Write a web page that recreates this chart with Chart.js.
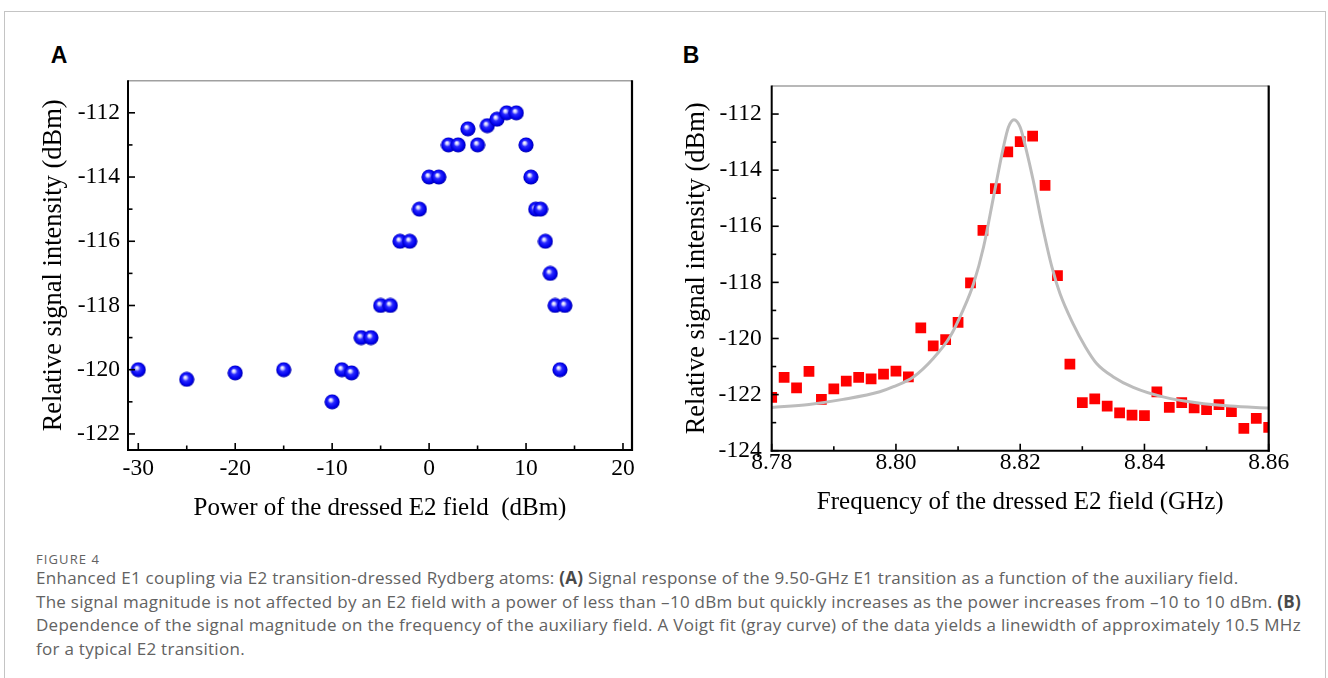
<!DOCTYPE html>
<html><head><meta charset="utf-8">
<script src="https://cdn.jsdelivr.net/npm/chart.js@4.4.1/dist/chart.umd.min.js"></script>
<style>
html,body{margin:0;padding:0;background:#fff;width:1328px;height:678px;overflow:hidden;position:relative;}
#frame{position:absolute;left:4px;top:11px;width:1322px;height:700px;border:1px solid #c4c4c4;box-sizing:border-box;}
.wrap{position:absolute;top:0;width:664px;height:540px;}
#wa{left:0}#wb{left:664px}
.plabel{position:absolute;top:43.8px;font-family:"Liberation Sans",Arial,sans-serif;font-weight:bold;font-size:23px;line-height:23px;color:#000;}
#fig{position:absolute;left:36px;top:550.5px;font-family:"Open Sans",sans-serif;font-size:13px;line-height:16px;color:#626262;letter-spacing:1.1px;}
#cap{position:absolute;left:36px;top:566.3px;font-family:"Open Sans",sans-serif;font-size:17px;line-height:23.4px;color:#626262;white-space:nowrap;letter-spacing:0.28px;}
#cap b{color:#4a4a4a;}
</style></head>
<body>
<div id="frame"></div>
<div class="plabel" style="left:50.7px">A</div>
<div class="plabel" style="left:682.7px">B</div>
<div class="wrap" id="wa"><canvas id="ca" width="664" height="540"></canvas></div>
<div class="wrap" id="wb"><canvas id="cb" width="664" height="540"></canvas></div>
<div id="fig">FIGURE 4</div>
<div id="cap">Enhanced E1 coupling via E2 transition-dressed Rydberg atoms: <b>(A)</b> Signal response of the 9.50-GHz E1 transition as a function of the auxiliary field.<br>The signal magnitude is not affected by an E2 field with a power of less than –10 dBm but quickly increases as the power increases from –10 to 10 dBm. <b>(B)</b><br>Dependence of the signal magnitude on the frequency of the auxiliary field. A Voigt fit (gray curve) of the data yields a linewidth of approximately 10.5 MHz<br>for a typical E2 transition.</div>
<script>
// ---- Panel A data ----
const aPower  = [-30, -25, -20, -15, -10, -9, -8, -7, -6, -5, -4, -3, -2, -1, 0, 1, 2, 3, 4, 5, 6, 7, 8, 9, 10, 10.5, 11, 11.5, 12, 12.5, 13, 13.5, 14];
const aSignal = [-120, -120.3, -120.1, -120, -121, -120, -120.1, -119, -119, -118, -118, -116, -116, -115, -114, -114, -113, -113, -112.5, -113, -112.4, -112.2, -112, -112, -113, -114, -115, -115, -116, -117, -118, -120, -118];
const aXTicks = [-30, -20, -10, 0, 10, 20];
const aXMinor = [-25, -15, -5, 5, 15];
const aYTicks = [-122, -120, -118, -116, -114, -112];
const aYMinor = [-121, -119, -117, -115, -113];

// ---- Panel B data ----
const bFreq = [8.780, 8.782, 8.784, 8.786, 8.788, 8.790, 8.792, 8.794, 8.796, 8.798, 8.800, 8.802, 8.804, 8.806, 8.808, 8.810, 8.812, 8.814, 8.816, 8.818, 8.820, 8.822, 8.824, 8.826, 8.828, 8.830, 8.832, 8.834, 8.836, 8.838, 8.840, 8.842, 8.844, 8.846, 8.848, 8.850, 8.852, 8.854, 8.856, 8.858, 8.860];
const bSignal = [-122.1, -121.39, -121.76, -121.17, -122.17, -121.8, -121.52, -121.39, -121.44, -121.27, -121.16, -121.37, -119.62, -120.26, -120.04, -119.43, -118.02, -116.15, -114.66, -113.35, -112.98, -112.79, -114.54, -117.76, -120.91, -122.29, -122.15, -122.41, -122.65, -122.73, -122.75, -121.9, -122.46, -122.29, -122.47, -122.54, -122.36, -122.61, -123.2, -122.85, -123.17];
const fitFreq   = [8.780, 8.786, 8.7915, 8.7974, 8.7996, 8.8028, 8.806, 8.8087, 8.8108, 8.8125, 8.8141, 8.8157, 8.8173, 8.8181, 8.819, 8.820, 8.821, 8.8221, 8.8235, 8.8251, 8.8264, 8.8285, 8.8305, 8.8323, 8.835, 8.8382, 8.843, 8.8484, 8.8538, 8.860];
const fitSignal = [-122.46, -122.35, -122.17, -121.9, -121.72, -121.37, -120.71, -119.94, -118.99, -118.04, -116.74, -114.96, -113.18, -112.47, -112.2, -112.47, -113.3, -114.37, -115.91, -117.45, -118.4, -119.47, -120.3, -120.89, -121.37, -121.74, -122.08, -122.29, -122.41, -122.48];
const bXTicks = [8.78, 8.80, 8.82, 8.84, 8.86];
const bXMinor = [8.79, 8.81, 8.83, 8.85];
const bYTicks = [-124, -122, -120, -118, -116, -114, -112];
const bYMinor = [-123, -121, -119, -117, -115, -113];

const serif = '"Liberation Serif","Times New Roman",serif';
const tickFont = {family: serif, size: 23.5, lineHeight: 1};
const xTitleFont = {family: serif, size: 25, lineHeight: 1};
const yTitleFont = {family: serif, size: 26.5, lineHeight: 1};

// sphere marker
const sphere = document.createElement('canvas');
sphere.width = 16; sphere.height = 16;
(function(){
  const g = sphere.getContext('2d');
  const gr = g.createRadialGradient(6.3, 5.8, 0.3, 8, 8, 8);
  gr.addColorStop(0, '#ffffff');
  gr.addColorStop(0.16, '#c8c8ff');
  gr.addColorStop(0.38, '#2a2aff');
  gr.addColorStop(0.75, '#0000ee');
  gr.addColorStop(1, '#00009a');
  g.fillStyle = gr;
  g.beginPath(); g.arc(8, 8, 7.6, 0, Math.PI*2); g.fill();
})();

const axisDecor = {
  id: 'axisDecor',
  afterDraw(chart, args, o) {
    const {ctx, chartArea: a} = chart;
    const x = chart.scales.x, y = chart.scales.y;
    const ln = (x1,y1,x2,y2)=>{ctx.beginPath();ctx.moveTo(x1,y1);ctx.lineTo(x2,y2);ctx.stroke();};
    ctx.save();
    ctx.strokeStyle = '#a0a0a0'; ctx.lineWidth = 1.5;
    ln(a.left, a.top, a.right, a.top);
    ctx.strokeStyle = '#000'; ctx.lineWidth = 2;
    ln(a.left, a.top - 0.5, a.left, a.bottom + 1);
    ln(a.left - 1, a.bottom, a.right + 1, a.bottom);
    ctx.lineWidth = 2.2;
    ln(a.right, a.top - 0.5, a.right, a.bottom + 1);
    ctx.lineWidth = 1.6;
    x.ticks.forEach(t => { const p = x.getPixelForValue(t.value); ln(p, a.bottom, p, a.bottom - 7); });
    o.xMinor.forEach(v => { const p = x.getPixelForValue(v); ln(p, a.bottom, p, a.bottom - 4.5); });
    y.ticks.forEach(t => { const p = y.getPixelForValue(t.value); ln(a.left, p, a.left + 7, p); });
    o.yMinor.forEach(v => { const p = y.getPixelForValue(v); ln(a.left, p, a.left + 4.5, p); });
    ctx.restore();
  }
};

function makeScales(cfg) {
  return {
    x: {
      type: 'linear', min: cfg.xMin, max: cfg.xMax,
      grid: {display: false, drawTicks: false}, border: {display: false},
      afterBuildTicks: s => { s.ticks = cfg.xTicks.map(v => ({value: v})); },
      afterFit: s => { s.height = cfg.xH; },
      ticks: {font: tickFont, color: '#000', padding: cfg.xPad, maxRotation: 0, autoSkip: false,
              callback: cfg.xFmt},
      title: {display: true, text: cfg.xTitle, font: xTitleFont, color: '#000', padding: {top: 0, bottom: cfg.xTitlePad}}
    },
    y: {
      type: 'linear', min: cfg.yMin, max: cfg.yMax,
      grid: {display: false, drawTicks: false}, border: {display: false},
      afterBuildTicks: s => { s.ticks = cfg.yTicks.map(v => ({value: v})); },
      afterFit: s => { s.width = cfg.yW; },
      ticks: {font: tickFont, color: '#000', padding: cfg.yPad, autoSkip: false, callback: v => String(v)},
      title: {display: true, text: 'Relative signal intensity (dBm)', font: yTitleFont, color: '#000', padding: {top: cfg.yTitlePad, bottom: 0}}
    }
  };
}

const common = {
  responsive: false, animation: false, devicePixelRatio: 1,
  plugins: {legend: {display: false}, tooltip: {enabled: false}}
};

new Chart(document.getElementById('ca'), {
  type: 'scatter',
  data: {datasets: [{
    data: aPower.map((v, i) => ({x: v, y: aSignal[i]})),
    pointStyle: sphere, pointRadius: 7.6, clip: false
  }]},
  options: Object.assign({}, common, {
    layout: {padding: {top: 80.7, right: 32, left: 0, bottom: 0}},
    scales: makeScales({xMin: -31.06, xMax: 20.93, yMin: -122.5, yMax: -111.0,
      xTicks: aXTicks, yTicks: aYTicks, xH: 90, yW: 128, xPad: 7, yPad: 8,
      xTitle: 'Power of the dressed E2 field  (dBm)', xTitlePad: 19, yTitlePad: 40.75,
      xFmt: v => String(v)}),
    plugins: Object.assign({}, common.plugins, {axisDecor: {xMinor: aXMinor, yMinor: aYMinor}})
  }),
  plugins: [axisDecor]
});

new Chart(document.getElementById('cb'), {
  type: 'scatter',
  data: {datasets: [
    {type: 'line', data: fitFreq.map((v, i) => ({x: v, y: fitSignal[i]})),
     borderColor: '#bcbcbc', borderWidth: 3, pointRadius: 0, tension: 0.4,
     cubicInterpolationMode: 'monotone', fill: false, order: 0, clip: 0},
    {data: bFreq.map((v, i) => ({x: v, y: bSignal[i]})),
     pointStyle: 'rect', pointRadius: 7.6, backgroundColor: '#ff0000', borderColor: '#ff0000',
     borderWidth: 0, order: 1, clip: 0}
  ]},
  options: Object.assign({}, common, {
    layout: {padding: {top: 86, right: 59.3, left: 0, bottom: 0}},
    scales: makeScales({xMin: 8.78, xMax: 8.86, yMin: -124, yMax: -111.0,
      xTicks: bXTicks, yTicks: bYTicks, xH: 89.3, yW: 107.7, xPad: 0, yPad: 10,
      xTitle: 'Frequency of the dressed E2 field (GHz)', xTitlePad: 25, yTitlePad: 20.25,
      xFmt: v => Number(v).toFixed(2)}),
    plugins: Object.assign({}, common.plugins, {axisDecor: {xMinor: bXMinor, yMinor: bYMinor}})
  }),
  plugins: [axisDecor]
});
</script>
</body></html>
